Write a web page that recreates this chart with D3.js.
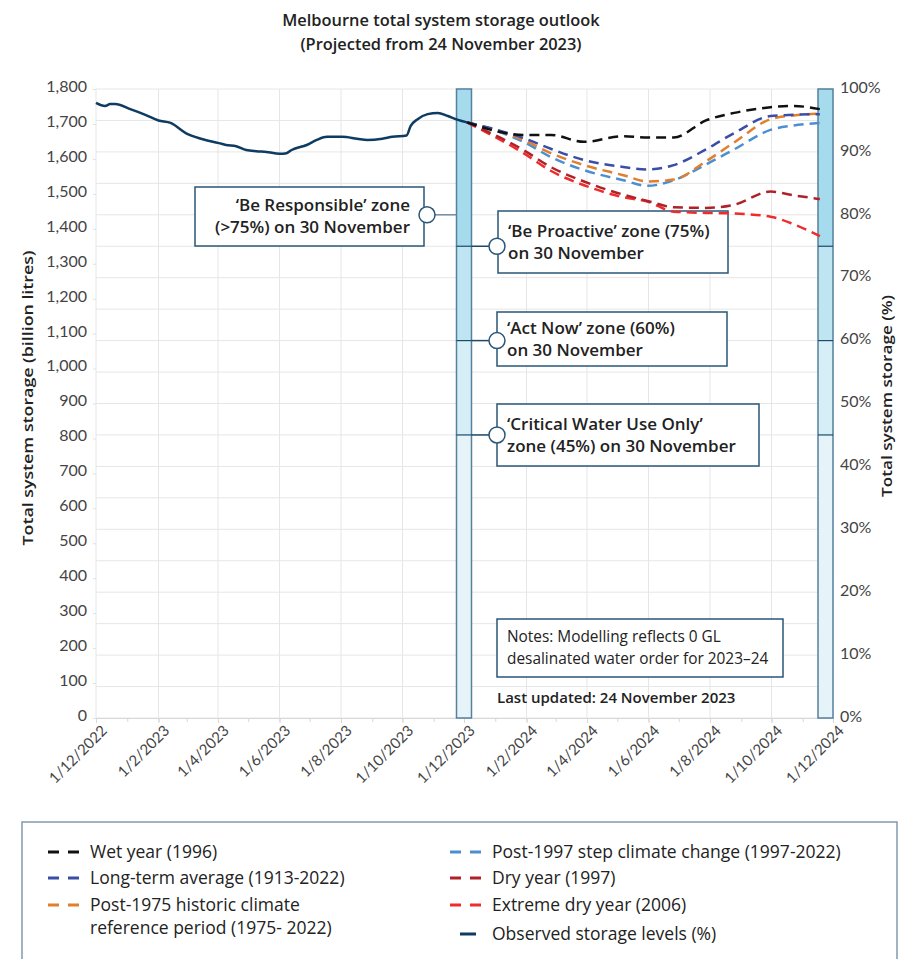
<!DOCTYPE html>
<html>
<head>
<meta charset="utf-8">
<script src="https://cdn.jsdelivr.net/npm/d3@7"></script>
<style>
  body { margin: 0; background: #fff; font-family: Lato, "Noto Sans", sans-serif; }
  svg text { font-family: Lato, "Noto Sans", sans-serif; }
  svg text.os { font-family: "Open Sans", Lato, sans-serif; }
</style>
</head>
<body>
<div id="chart"></div>
<script>
// data
var observedDates = ["2022-12-01","2022-12-10","2022-12-15","2022-12-20","2023-01-04","2023-01-19","2023-02-01","2023-02-13","2023-02-28","2023-03-15","2023-04-02","2023-04-09","2023-04-19","2023-04-29","2023-05-09","2023-05-19","2023-06-01","2023-06-08","2023-06-13","2023-06-28","2023-07-08","2023-07-18","2023-08-02","2023-08-17","2023-08-27","2023-09-11","2023-09-21","2023-10-05","2023-10-09","2023-10-16","2023-10-26","2023-11-05","2023-11-15","2023-11-25","2023-12-04"];
var observedPct = [97.8,97.3,97.6,97.6,96.8,95.9,95.0,94.6,93.0,92.1,91.4,91.1,90.9,90.3,90.1,90.0,89.7,89.8,90.3,91.1,91.9,92.4,92.4,92.1,91.9,92.1,92.4,92.6,94.1,95.2,96.0,96.2,95.7,95.1,94.7];

var projDates = ["2023-12-04","2024-01-29","2024-02-25","2024-03-29","2024-05-07","2024-05-31","2024-06-26","2024-07-28","2024-08-25","2024-09-30","2024-10-23","2024-11-18"];
var wetYear      = [94.7,92.7,92.7,91.6,92.5,92.3,92.3,95.0,96.2,97.1,97.3,96.8];
var longTermAvg  = [94.7,92.2,90.5,88.7,87.6,87.2,87.9,90.4,93.0,95.7,95.9,96.0];
var post1975     = [94.7,91.9,89.8,87.9,86.3,85.3,85.6,88.5,91.5,95.2,95.8,96.1];
var post1997     = [94.7,91.6,89.2,87.1,85.5,84.6,85.5,88.0,90.4,93.5,94.2,94.6];
var dryYear      = [94.7,90.3,87.6,85.3,83.2,82.2,81.2,81.1,81.6,83.7,83.1,82.5];
var extremeDry   = [94.7,89.8,87.0,84.7,82.8,82.1,80.5,80.3,80.2,79.7,78.5,76.6];

var seriesColors = ["#111111","#3b4ea6","#e07f2e","#4b8fd2","#b0222a","#f02b2b"];

var xTickLabels = ["1/12/2022","1/2/2023","1/4/2023","1/6/2023","1/8/2023","1/10/2023","1/12/2023","1/2/2024","1/4/2024","1/6/2024","1/8/2024","1/10/2024","1/12/2024"];
var glTicks = [0,100,200,300,400,500,600,700,800,900,1000,1100,1200,1300,1400,1500,1600,1700,1800];
var pctTicks = [0,10,20,30,40,50,60,70,80,90,100];
var zoneLevels = [45,60,75];

var svgWidth = 900, svgHeight = 959;
var margin = { top: 89, left: 96, right: 67, bottom: 241 };
var width = svgWidth - margin.left - margin.right;   // 737
var height = svgHeight - margin.top - margin.bottom; // 629

var parse = d3.timeParse("%Y-%m-%d");
var parseTick = d3.timeParse("%d/%m/%Y");
var tickDates = xTickLabels.map(parseTick);

var svg = d3.select("#chart").append("svg")
  .attr("width", svgWidth)
  .attr("height", svgHeight);

var chart = svg.append("g")
  .attr("transform", "translate(" + margin.left + "," + margin.top + ")");

var x = d3.scaleTime().domain([tickDates[0], tickDates[tickDates.length - 1]]).range([0, width]);
var yPct = d3.scaleLinear().domain([0, 100]).range([height, 0]);
var yGL = d3.scaleLinear().domain([0, 1800]).range([height, 0]);

// title
svg.append("text").attr("class", "os").attr("x", 441).attr("y", 26).attr("text-anchor", "middle")
  .style("font-size", "16.4px").style("font-weight", "600").style("fill", "#222")
  .text("Melbourne total system storage outlook");
svg.append("text").attr("class", "os").attr("x", 441).attr("y", 50).attr("text-anchor", "middle")
  .style("font-size", "16.4px").style("font-weight", "600").style("fill", "#222")
  .text("(Projected from 24 November 2023)");

// gridlines
var gridH = d3.range(0, 101, 5);
chart.selectAll(".gh").data(gridH).enter().append("line")
  .attr("x1", 0).attr("x2", width)
  .attr("y1", d => yPct(d)).attr("y2", d => yPct(d))
  .style("stroke", "#e6e6e6").style("stroke-width", 1);

chart.selectAll(".gv").data(tickDates).enter().append("line")
  .attr("x1", d => x(d)).attr("x2", d => x(d))
  .attr("y1", 0).attr("y2", height)
  .style("stroke", "#e6e6e6").style("stroke-width", 1);

// x axis
var xAxis = chart.append("g")
  .attr("transform", "translate(0," + height + ")")
  .call(d3.axisBottom(x).tickValues(tickDates).tickFormat((d, i) => xTickLabels[i]).tickSize(5).tickPadding(6));
xAxis.select(".domain").style("stroke", "#d8d8d8");
xAxis.selectAll(".tick line").style("stroke", "#d8d8d8");
xAxis.selectAll("text")
  .style("font-size", "15px").style("fill", "#444")
  .attr("text-anchor", "end")
  .attr("dx", "-0.1em").attr("dy", "0.45em")
  .attr("transform", "rotate(-45)");

chart.append("g")
  .attr("transform", "translate(0," + height + ")")
  .call(d3.axisBottom(x).tickValues(d3.timeMonth.range(tickDates[0], tickDates[tickDates.length - 1])).tickFormat("").tickSize(4))
  .call(g => g.select(".domain").remove())
  .selectAll(".tick line").style("stroke", "#d8d8d8");

// left axis
var leftAxis = chart.append("g")
  .call(d3.axisLeft(yGL).tickValues(glTicks).tickFormat(d3.format(",")).tickSize(3).tickPadding(6));
leftAxis.select(".domain").remove();
leftAxis.selectAll(".tick line").style("stroke", "#e0e0e0");
leftAxis.selectAll("text").style("font-size", "16px").style("fill", "#444").attr("dy", "0.15em");

// right axis
var rightAxis = chart.append("g")
  .attr("transform", "translate(" + width + ",0)")
  .call(d3.axisRight(yPct).tickValues(pctTicks).tickFormat(d => d + "%").tickSize(0).tickPadding(7));
rightAxis.select(".domain").remove();
rightAxis.selectAll("text").style("font-size", "16px").style("fill", "#444").attr("dy", "0.2em");

// axis titles
svg.append("text").attr("class", "os")
  .attr("transform", "translate(33,398) rotate(-90)")
  .attr("x", 0).attr("y", 0)
  .attr("text-anchor", "middle")
  .attr("textLength", 295).attr("lengthAdjust", "spacingAndGlyphs")
  .style("font-size", "15px").style("font-weight", "600").style("fill", "#222")
  .text("Total system storage (billion litres)");
svg.append("text").attr("class", "os")
  .attr("transform", "translate(892,396) rotate(-90)")
  .attr("x", 0).attr("y", 0)
  .attr("text-anchor", "middle")
  .attr("textLength", 202).attr("lengthAdjust", "spacingAndGlyphs")
  .style("font-size", "15px").style("font-weight", "600").style("fill", "#222")
  .text("Total system storage (%)");

// zone bars
var zoneBands = [
  { lo: 75, hi: 100, fill: "#a5dbed" },
  { lo: 60, hi: 75, fill: "#bfe5f2" },
  { lo: 45, hi: 60, fill: "#d6eff7" },
  { lo: 0, hi: 45, fill: "#e6f4fa" }
];
var barW = 15;
var barXs = [x(tickDates[6]) - barW / 2, width - barW];

barXs.forEach(function(bx) {
  var bar = chart.append("g").attr("transform", "translate(" + bx + ",0)");
  bar.selectAll("rect").data(zoneBands).enter().append("rect")
    .attr("x", 0).attr("width", barW)
    .attr("y", d => yPct(d.hi)).attr("height", d => yPct(d.lo) - yPct(d.hi))
    .style("fill", d => d.fill);
  bar.append("rect").attr("x", 0).attr("y", 0).attr("width", barW).attr("height", height)
    .style("fill", "none").style("stroke", "#55819c").style("stroke-width", 1.5);
  bar.selectAll(".zl").data(zoneLevels).enter().append("line")
    .attr("x1", 0).attr("x2", barW)
    .attr("y1", d => yPct(d)).attr("y2", d => yPct(d))
    .style("stroke", "#1d4a6a").style("stroke-width", 1.2);
});

// annotations
var leftBarX = barXs[0];
function callout(circleX, circleY, lineFrom, box, lines, anchor, lineColor) {
  chart.append("line")
    .attr("x1", lineFrom).attr("x2", circleX)
    .attr("y1", circleY).attr("y2", circleY)
    .style("stroke", lineColor).style("stroke-width", 1.5);
  chart.append("rect")
    .attr("x", box[0]).attr("y", box[1]).attr("width", box[2]).attr("height", box[3])
    .style("fill", "#fff").style("stroke", "#2a5677").style("stroke-width", 1.5);
  var tx = anchor === "end" ? box[0] + box[2] - 14 : box[0] + 10;
  var ty = box[1] + box[3] / 2 - 11;
  lines.forEach(function(t, i) {
    chart.append("text").attr("class", "os")
      .attr("x", tx).attr("y", ty + i * 22).attr("dy", "0.35em")
      .attr("text-anchor", anchor)
      .style("font-size", "17px").style("font-weight", "600").style("fill", "#222")
      .text(t);
  });
  chart.append("circle").attr("cx", circleX).attr("cy", circleY).attr("r", 8)
    .style("fill", "#fff").style("stroke", "#2a5677").style("stroke-width", 1.5);
}

var ml = margin.left, mt = margin.top;
callout(427 - ml, yPct(80), leftBarX, [195 - ml, 187 - mt, 229, 59],
  ["\u2018Be Responsible\u2019 zone", "(>75%) on 30 November"], "end", "#6d8ea6");
callout(497 - ml, yPct(75), leftBarX + barW, [498 - ml, 211 - mt, 230, 62],
  ["\u2018Be Proactive\u2019 zone (75%)", "on 30 November"], "start", "#1d4a6a");
callout(497 - ml, yPct(60), leftBarX + barW, [497 - ml, 312 - mt, 230, 54],
  ["\u2018Act Now\u2019 zone (60%)", "on 30 November"], "start", "#1d4a6a");
callout(497 - ml, yPct(45), leftBarX + barW, [497 - ml, 404 - mt, 262, 62],
  ["\u2018Critical Water Use Only\u2019", "zone (45%) on 30 November"], "start", "#1d4a6a");

// notes
chart.append("rect")
  .attr("x", 497 - ml).attr("y", 619 - mt).attr("width", 286).attr("height", 58)
  .style("fill", "#fff").style("stroke", "#2a5677").style("stroke-width", 1.5);
chart.append("text").attr("class", "os").attr("x", 507 - ml).attr("y", 642 - mt)
  .style("font-size", "15.4px").style("fill", "#222")
  .text("Notes: Modelling reflects 0 GL");
chart.append("text").attr("class", "os").attr("x", 507 - ml).attr("y", 664 - mt)
  .style("font-size", "15.4px").style("fill", "#222")
  .text("desalinated water order for 2023\u201324");
chart.append("text").attr("class", "os").attr("x", 497 - ml).attr("y", 703 - mt)
  .style("font-size", "15px").style("font-weight", "600").style("fill", "#222")
  .text("Last updated: 24 November 2023");

// lines
var line = d3.line()
  .x(d => x(d.date))
  .y(d => yPct(d.value))
  .curve(d3.curveMonotoneX);

var projValues = [wetYear, longTermAvg, post1975, post1997, dryYear, extremeDry];
var drawOrder = [5, 4, 3, 2, 1, 0];
drawOrder.forEach(function(i) {
  var data = projDates.map((d, j) => ({ date: parse(d), value: projValues[i][j] }));
  chart.append("path")
    .datum(data)
    .attr("d", line)
    .style("fill", "none")
    .style("stroke", seriesColors[i])
    .style("stroke-width", 2.5)
    .style("stroke-dasharray", "10,6");
});

var obsData = observedDates.map((d, j) => ({ date: parse(d), value: observedPct[j] }));
chart.append("path")
  .datum(obsData)
  .attr("d", line)
  .style("fill", "none")
  .style("stroke", "#0d3b61")
  .style("stroke-width", 2.5);

// legend
svg.append("rect")
  .attr("x", 22).attr("y", 822).attr("width", 875).attr("height", 150)
  .style("fill", "#fff").style("stroke", "#8299ad").style("stroke-width", 1.5);

var legendItems = [
  { col: 0, y: 852, lines: ["Wet year (1996)"], color: seriesColors[0], dash: true },
  { col: 0, y: 878, lines: ["Long-term average (1913-2022)"], color: seriesColors[1], dash: true },
  { col: 0, y: 905, lines: ["Post-1975 historic climate", "reference period (1975- 2022)"], color: seriesColors[2], dash: true },
  { col: 1, y: 852, lines: ["Post-1997 step climate change (1997-2022)"], color: seriesColors[3], dash: true },
  { col: 1, y: 878, lines: ["Dry year (1997)"], color: seriesColors[4], dash: true },
  { col: 1, y: 905, lines: ["Extreme dry year (2006)"], color: seriesColors[5], dash: true },
  { col: 1, y: 934, lines: ["Observed storage levels (%)"], color: "#0d3b61", dash: false }
];
var colX = [48, 450];
legendItems.forEach(function(it) {
  var g = svg.append("g").attr("transform", "translate(" + colX[it.col] + "," + it.y + ")");
  if (it.dash) {
    g.append("line").attr("x1", 0).attr("x2", 32).attr("y1", 0).attr("y2", 0)
      .style("stroke", it.color).style("stroke-width", 3).style("stroke-dasharray", "11,9");
  } else {
    g.append("line").attr("x1", 10).attr("x2", 26).attr("y1", 0).attr("y2", 0)
      .style("stroke", it.color).style("stroke-width", 3);
  }
  it.lines.forEach(function(t, i) {
    g.append("text").attr("class", "os").attr("x", 42).attr("y", i * 23).attr("dy", "0.35em")
      .style("font-size", "17.5px").style("fill", "#222")
      .text(t);
  });
});
</script>
</body>
</html>
